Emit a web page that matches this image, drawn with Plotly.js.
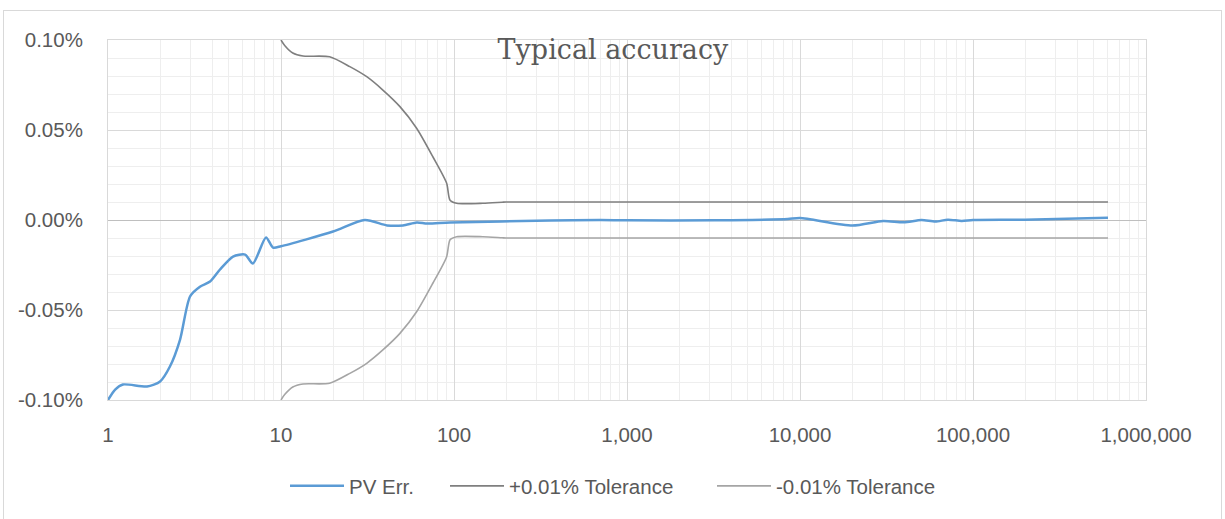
<!DOCTYPE html>
<html>
<head>
<meta charset="utf-8">
<script src="https://cdn.plot.ly/plotly-3.0.1.min.js"></script>
<style>
  html, body { margin: 0; padding: 0; background: #ffffff; }
  #wrap { position: relative; width: 1225px; height: 519px; overflow: hidden; }
  #chart { position: absolute; left: 0; top: 0; width: 1225px; height: 519px; }
  #frame { position: absolute; left: 3px; top: 10px; width: 1219px; height: 520px;
           border: 1px solid #D9D9D9; pointer-events: none; box-sizing: border-box; }
</style>
</head>
<body>
<div id="wrap">
  <div id="chart"></div>
  <div id="frame"></div>
</div>
<script>
// ---- Data (y values in percent) ----
const pvX = [1, 1.1, 1.22, 1.68, 2.0, 2.28, 2.61, 2.98, 3.4, 3.89, 4.44, 5.28, 6.2, 6.88, 8.19, 8.99, 10, 20, 30.5, 41, 50.7, 61, 70, 95, 360, 700, 1000, 3200, 5300, 8500, 10000, 20100, 30200, 39800, 50400, 60600, 71600, 86000, 100000, 200000, 603000];
const pvY = [-0.100, -0.0942, -0.0914, -0.0925, -0.0897, -0.0814, -0.0664, -0.0425, -0.0371, -0.0342, -0.0275, -0.0203, -0.0192, -0.0242, -0.0097, -0.0153, -0.0146, -0.0064, 0.0, -0.0030, -0.0030, -0.0014, -0.0020, -0.0014, -0.0003, 0.0, -0.0002, -0.0002, 0.0, 0.0005, 0.0011, -0.0031, -0.0006, -0.0013, 0.0, -0.0009, 0.0002, -0.0005, 0.0, 0.0002, 0.0013];

const tolX = [10, 10.5, 11.7, 13.4, 19.1, 25, 31.3, 38.8, 48.7, 60.8, 75.6, 90.6, 94.9, 103.7, 147, 190, 200, 1000, 10000, 100000, 603000];
const tolPlusY = [0.100, 0.097, 0.0928, 0.0911, 0.0907, 0.0852, 0.0796, 0.0722, 0.063, 0.051, 0.035, 0.0205, 0.011, 0.0093, 0.0093, 0.0099, 0.010, 0.010, 0.010, 0.010, 0.010];
const tolMinusY = [-0.100, -0.097, -0.0928, -0.0911, -0.0907, -0.0852, -0.0796, -0.0722, -0.063, -0.051, -0.035, -0.0205, -0.011, -0.0093, -0.0093, -0.0099, -0.010, -0.010, -0.010, -0.010, -0.010];

const xTickVals = [1, 10, 100, 1000, 10000, 100000, 1000000];
const xTickText = ["1", "10", "100", "1,000", "10,000", "100,000", "1,000,000"];
const yTickVals = [-0.10, -0.05, 0.00, 0.05, 0.10];
const yTickText = ["-0.10%", "-0.05%", "0.00%", "0.05%", "0.10%"];

const seriesNames = ["PV Err.", "+0.01% Tolerance", "-0.01% Tolerance"];

const textColor = "#595959";
const labelFont = { family: "Liberation Sans, Arial, sans-serif", size: 20.5, color: textColor };

const traces = [
  { x: pvX, y: pvY, name: seriesNames[0], type: "scatter", mode: "lines", legend: "legend",
    line: { color: "#5B9BD5", width: 2.5, shape: "spline", smoothing: 0.7 }, hoverinfo: "skip" },
  { x: tolX, y: tolPlusY, name: seriesNames[1], type: "scatter", mode: "lines", legend: "legend2",
    line: { color: "#7F7F7F", width: 1.6, shape: "spline", smoothing: 0.7 }, hoverinfo: "skip" },
  { x: tolX, y: tolMinusY, name: seriesNames[2], type: "scatter", mode: "lines", legend: "legend3",
    line: { color: "#A5A5A5", width: 1.6, shape: "spline", smoothing: 0.7 }, hoverinfo: "skip" }
];

const plotL = 108, plotW = 1038, plotH = 360;
function legendAt(px) {
  return { orientation: "h", x: (px - plotL) / plotW, xanchor: "left", y: -86 / plotH, yanchor: "middle",
           font: labelFont, bgcolor: "rgba(0,0,0,0)", borderwidth: 0, itemwidth: 54 };
}

const layout = {
  width: 1225, height: 519,
  margin: { l: 108, r: 79, t: 40, b: 119, pad: 0 },
  paper_bgcolor: "rgba(0,0,0,0)", plot_bgcolor: "#ffffff",
  showlegend: true,
  title: { text: "Typical accuracy", font: { family: "DejaVu Serif, serif", size: 27, color: textColor },
           x: 0.5004, xref: "container", xanchor: "center", y: 1 - 50/519, yref: "container", yanchor: "middle" },
  xaxis: {
    type: "log", range: [0, 6], autorange: false,
    tickmode: "array", tickvals: xTickVals, ticktext: xTickText,
    tickfont: labelFont, ticks: "",
    showgrid: true, gridcolor: "#D9D9D9", gridwidth: 1,
    minor: { dtick: "D1", showgrid: true, gridcolor: "#EEEEEE", gridwidth: 1, ticks: "" },
    showline: true, linecolor: "#D9D9D9", linewidth: 1, mirror: true,
    zeroline: false, automargin: false,
    ticklabelstandoff: 16
  },
  yaxis: {
    range: [-0.1, 0.1], autorange: false,
    tickmode: "array", tickvals: yTickVals, ticktext: yTickText,
    tickfont: labelFont, ticks: "",
    showgrid: true, gridcolor: "#D9D9D9", gridwidth: 1,
    minor: { dtick: 0.01, tick0: 0, showgrid: true, gridcolor: "#EEEEEE", gridwidth: 1, ticks: "" },
    zeroline: true, zerolinecolor: "#BFBFBF", zerolinewidth: 1,
    showline: true, linecolor: "#D9D9D9", linewidth: 1, mirror: true,
    automargin: false,
    ticklabelstandoff: 20
  },
  legend: legendAt(285),
  legend2: legendAt(445),
  legend3: legendAt(712)
};

Plotly.newPlot("chart", traces, layout, { displayModeBar: false, staticPlot: true });
</script>
</body>
</html>
